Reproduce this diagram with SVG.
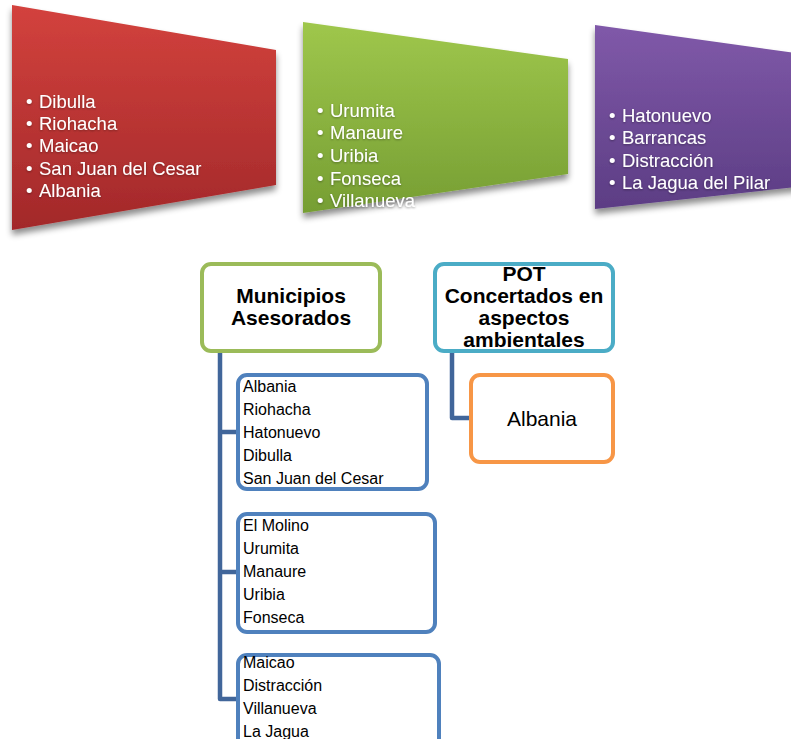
<svg xmlns="http://www.w3.org/2000/svg" width="791" height="739" viewBox="0 0 791 739">
<defs>
<linearGradient id="gRed" x1="0" y1="0" x2="0" y2="1"><stop offset="0" stop-color="#d3423d"/><stop offset="1" stop-color="#a2282a"/></linearGradient>
<linearGradient id="gGreen" x1="0" y1="0" x2="0" y2="1"><stop offset="0" stop-color="#9fc74c"/><stop offset="1" stop-color="#769e33"/></linearGradient>
<linearGradient id="gPurple" x1="0" y1="0" x2="0" y2="1"><stop offset="0" stop-color="#8059a9"/><stop offset="1" stop-color="#5c3d84"/></linearGradient>
<filter id="sh" x="-10%" y="-10%" width="120%" height="130%"><feDropShadow dx="0" dy="5" stdDeviation="3" flood-color="#000" flood-opacity="0.45"/></filter>
<filter id="tsh" x="-10%" y="-20%" width="120%" height="140%"><feDropShadow dx="0" dy="1" stdDeviation="1" flood-color="#000" flood-opacity="0.35"/></filter>
</defs>
<style>
.t{font-family:"Liberation Sans",Arial,sans-serif;}
.wt{font-size:18.5px;fill:#fff;}
.hd{font-size:21px;font-weight:bold;fill:#000;text-anchor:middle;}
.it{font-size:16px;fill:#000;}
.box{fill:#fff;stroke-width:4;}
.conn{fill:none;stroke:#41669a;stroke-width:4.5;stroke-linejoin:round;}
</style>

<g id="banner-red">
<polygon points="12,5 276,50 276,185 12,230" fill="url(#gRed)" filter="url(#sh)"/>
<text class="t wt" filter="url(#tsh)">
<tspan x="26" y="107.5">•</tspan><tspan x="39" y="107.5">Dibulla</tspan>
<tspan x="26" y="130">•</tspan><tspan x="39" y="130">Riohacha</tspan>
<tspan x="26" y="152.3">•</tspan><tspan x="39" y="152.3">Maicao</tspan>
<tspan x="26" y="174.6">•</tspan><tspan x="39" y="174.6">San Juan del Cesar</tspan>
<tspan x="26" y="197">•</tspan><tspan x="39" y="197">Albania</tspan>
</text>
</g>

<g id="banner-green">
<polygon points="303,22 568,59 568,174 303,213" fill="url(#gGreen)" filter="url(#sh)"/>
<text class="t wt" filter="url(#tsh)">
<tspan x="317" y="116.7">•</tspan><tspan x="330" y="116.7">Urumita</tspan>
<tspan x="317" y="139.3">•</tspan><tspan x="330" y="139.3">Manaure</tspan>
<tspan x="317" y="161.9">•</tspan><tspan x="330" y="161.9">Uribia</tspan>
<tspan x="317" y="184.5">•</tspan><tspan x="330" y="184.5">Fonseca</tspan>
<tspan x="317" y="207.1">•</tspan><tspan x="330" y="207.1">Villanueva</tspan>
</text>
</g>

<g id="banner-purple">
<polygon points="595,25 860,62 860,180 595,209" fill="url(#gPurple)" filter="url(#sh)"/>
<text class="t wt" filter="url(#tsh)">
<tspan x="609" y="121.7">•</tspan><tspan x="622" y="121.7">Hatonuevo</tspan>
<tspan x="609" y="144.3">•</tspan><tspan x="622" y="144.3">Barrancas</tspan>
<tspan x="609" y="166.8">•</tspan><tspan x="622" y="166.8">Distracción</tspan>
<tspan x="609" y="189.4">•</tspan><tspan x="622" y="189.4">La Jagua del Pilar</tspan>
</text>
</g>

<g id="connectors">
<path class="conn" d="M220,352 V699 H237 M220,432 H237 M220,572 H237"/>
<path class="conn" d="M452,352 V418 H469"/>
</g>

<g id="municipios">
<rect class="box" x="202" y="264" width="178" height="87" rx="9" stroke="#9bbb59"/>
<text class="t hd"><tspan x="291" y="303">Municipios</tspan><tspan x="291" y="325">Asesorados</tspan></text>
</g>

<g id="pot">
<rect class="box" x="435" y="264" width="178" height="87" rx="9" stroke="#4bacc6"/>
<text class="t hd"><tspan x="524" y="281">POT</tspan><tspan x="524" y="303">Concertados en</tspan><tspan x="524" y="325">aspectos</tspan><tspan x="524" y="347">ambientales</tspan></text>
</g>

<g id="grupo1">
<rect class="box" x="238" y="375" width="189" height="114" rx="9" stroke="#4f81bd"/>
<text class="t it"><tspan x="243" y="392.3">Albania</tspan><tspan x="243" y="415.3">Riohacha</tspan><tspan x="243" y="438.3">Hatonuevo</tspan><tspan x="243" y="461.3">Dibulla</tspan><tspan x="243" y="484.3">San Juan del Cesar</tspan></text>
</g>

<g id="grupo2">
<rect class="box" x="238" y="514" width="197" height="118" rx="9" stroke="#4f81bd"/>
<text class="t it"><tspan x="243" y="530.7">El Molino</tspan><tspan x="243" y="553.7">Urumita</tspan><tspan x="243" y="576.7">Manaure</tspan><tspan x="243" y="599.7">Uribia</tspan><tspan x="243" y="622.7">Fonseca</tspan></text>
</g>

<g id="grupo3">
<rect class="box" x="238" y="655" width="201" height="110" rx="9" stroke="#4f81bd"/>
<text class="t it"><tspan x="243" y="668.3">Maicao</tspan><tspan x="243" y="691.3">Distracción</tspan><tspan x="243" y="714.3">Villanueva</tspan><tspan x="243" y="737.3">La Jagua</tspan></text>
</g>

<g id="albania">
<rect class="box" x="471" y="375" width="142" height="87" rx="9" stroke="#f79646"/>
<text class="t" x="542" y="426" font-size="21" text-anchor="middle" fill="#000">Albania</text>
</g>
</svg>
